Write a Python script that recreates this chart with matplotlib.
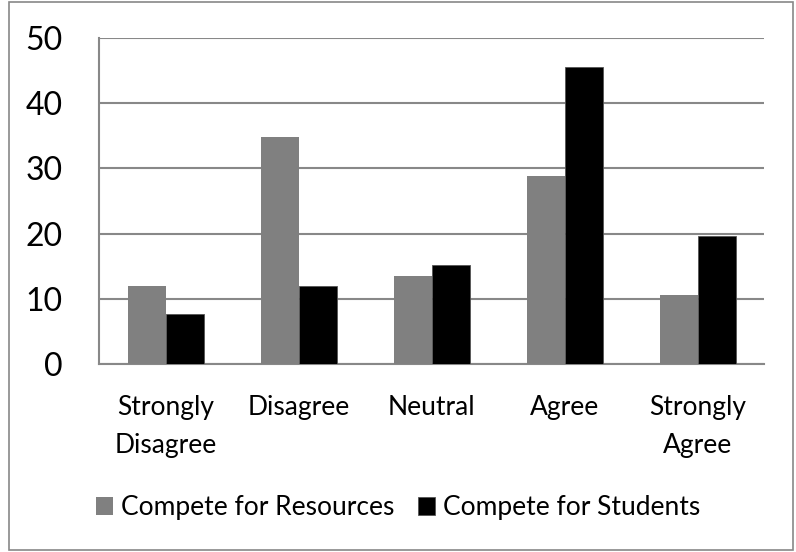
import matplotlib
matplotlib.use("Agg")
import matplotlib.pyplot as plt
import numpy as np
from matplotlib.patches import Rectangle

# Survey responses (percent) by agreement level
categories = ["Strongly\nDisagree", "Disagree", "Neutral", "Agree", "Strongly\nAgree"]
resources = [12.0, 34.8, 13.5, 28.8, 10.6]
students = [7.6, 12.0, 15.2, 45.5, 19.7]
yticks = [0, 10, 20, 30, 40, 50]

plt.rcParams["font.family"] = ["Lato", "DejaVu Sans"]

fig = plt.figure(figsize=(7.96, 5.52), dpi=100)
ax = fig.add_axes([99 / 796, 1 - 364 / 552, (764 - 99) / 796, (364 - 38) / 552])

x = np.arange(len(categories))
w = 1 / 3.5
ax.bar(x - w / 2, resources, w, color="#808080", label="Compete for Resources", zorder=3)
ax.bar(x + w / 2, students, w, color="#000000", edgecolor="#555555", linewidth=0.6,
       label="Compete for Students", zorder=3)

ax.set_xlim(-0.5, len(categories) - 0.5)
ax.set_ylim(0, 50)
ax.set_yticks(yticks)
ax.set_xticks(x)
ax.set_xticklabels(categories, fontsize=19, linespacing=1.65)
ax.tick_params(axis="y", length=0, pad=26, labelsize=23)
ax.tick_params(axis="x", length=0, pad=22)

ax.yaxis.grid(True, color="#888888", linewidth=1.5, zorder=0)
for side in ["top", "right"]:
    ax.spines[side].set_visible(False)
for side in ["left", "bottom"]:
    ax.spines[side].set_color("#888888")
    ax.spines[side].set_linewidth(1.5)

ax.legend(loc="center", bbox_to_anchor=(0.5, (552 - 508) / 552), bbox_transform=fig.transFigure,
          ncol=2, frameon=False, fontsize=19, handlelength=0.65, handleheight=0.65,
          handletextpad=0.3, columnspacing=0.9)

# outer border around the whole chart
fig.patches.append(Rectangle((9 / 796, 2 / 552), 784 / 796, 548 / 552, transform=fig.transFigure,
                             fill=False, edgecolor="#888888", linewidth=1.2))

fig.savefig("out.png", dpi=100)
